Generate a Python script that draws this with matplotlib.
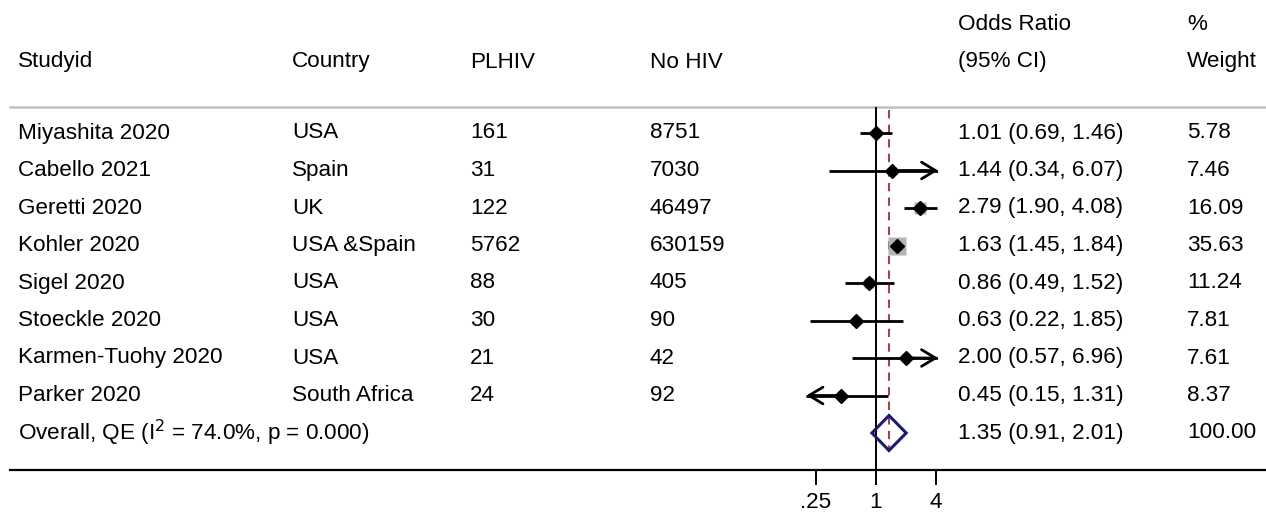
import numpy as np
import matplotlib
matplotlib.use("Agg")
import matplotlib.pyplot as plt
from matplotlib.patches import Polygon

plt.rcParams['font.family'] = ['Liberation Sans', 'DejaVu Sans']

# data
studies = ['Miyashita 2020', 'Cabello 2021', 'Geretti 2020', 'Kohler 2020',
           'Sigel 2020', 'Stoeckle 2020', 'Karmen-Tuohy 2020', 'Parker 2020']
countries = ['USA', 'Spain', 'UK', 'USA &Spain', 'USA', 'USA', 'USA', 'South Africa']
plhiv = [161, 31, 122, 5762, 88, 30, 21, 24]
nohiv = [8751, 7030, 46497, 630159, 405, 90, 42, 92]
odds = [1.01, 1.44, 2.79, 1.63, 0.86, 0.63, 2.00, 0.45]
lower = [0.69, 0.34, 1.90, 1.45, 0.49, 0.22, 0.57, 0.15]
upper = [1.46, 6.07, 4.08, 1.84, 1.52, 1.85, 6.96, 1.31]
weights = [5.78, 7.46, 16.09, 35.63, 11.24, 7.81, 7.61, 8.37]
overall = (1.35, 0.91, 2.01)
overall_weight = 100.00
overall_label = 'Overall, QE (I$^2$ = 74.0%, p = 0.000)'
xticks = [0.25, 1, 4]
xticklabels = ['.25', '1', '4']
xmin, xmax = 0.2, 4.2

W, H = 1266, 513
fig = plt.figure(figsize=(W / 100, H / 100), dpi=100, facecolor='white')

# row geometry (pixels)
row0, step = 133, 37.5
def rowy(px):
    return (px - row0) / step

# background axes for table text and rules
tab = fig.add_axes([0, 0, 1, 1])
tab.set_xlim(0, W)
tab.set_ylim(rowy(H), rowy(0))
tab.axis('off')

fs = 16.2
cols = [18, 292, 470, 650, 958, 1187]
hdr_y = rowy(62)
for x, t in zip(cols, ['Studyid', 'Country', 'PLHIV', 'No HIV', '(95% CI)', 'Weight']):
    tab.text(x, hdr_y, t, fontsize=fs, va='center', ha='left')
tab.text(cols[4], rowy(25), 'Odds Ratio', fontsize=fs, va='center')
tab.text(cols[5], rowy(25), '%', fontsize=fs, va='center')

for i in range(len(studies)):
    vals = [studies[i], countries[i], str(plhiv[i]), str(nohiv[i]),
            f'{odds[i]:.2f} ({lower[i]:.2f}, {upper[i]:.2f})', f'{weights[i]:.2f}']
    for x, t in zip(cols, vals):
        tab.text(x, i, t, fontsize=fs, va='center', ha='left')
n = len(studies)
tab.text(cols[0], n, overall_label, fontsize=fs, va='center')
tab.text(cols[4], n, f'{overall[0]:.2f} ({overall[1]:.2f}, {overall[2]:.2f})', fontsize=fs, va='center')
tab.text(cols[5], n, f'{overall_weight:.2f}', fontsize=fs, va='center')

tab.axhline(rowy(107), xmin=10 / W, xmax=1, color='#c0c0c0', lw=1.8)
tab.axhline(rowy(470), xmin=10 / W, xmax=1, color='black', lw=1.6)

# forest axes
x0 = 876 + 30 * np.log2(xmin)
x1 = 876 + 30 * np.log2(xmax)
top_px, bot_px = 107, 470
ax = fig.add_axes([x0 / W, 1 - bot_px / H, (x1 - x0) / W, (bot_px - top_px) / H])
ax.set_xscale('log', base=2)
ax.set_xlim(xmin, xmax)
ax.set_ylim(rowy(bot_px), rowy(top_px))
ax.patch.set_alpha(0)
for s in ax.spines.values():
    s.set_visible(False)
ax.set_yticks([])
ax.set_xticks(xticks)
ax.set_xticklabels(xticklabels, fontsize=fs)
ax.xaxis.set_minor_locator(matplotlib.ticker.NullLocator())
ax.tick_params(axis='x', length=11, width=1.4, direction='out', pad=5)

ax.axvline(1, color='black', lw=1.4, zorder=1)
ax.plot([overall[0], overall[0]], [rowy(110), rowy(452)], color='#a3405a',
        lw=1.5, ls=(0, (4, 3)), zorder=1)

astyle = '->,head_length=1.0,head_width=0.6'
for i in range(n):
    side = 2.16 * np.sqrt(weights[i])
    ax.plot(odds[i], i, 's', ms=side, color='#b4b4b4', mec='none', zorder=2)
    lo, hi = max(lower[i], xmin), min(upper[i], xmax)
    ax.plot([lo, hi], [i, i], color='black', lw=2.0, zorder=3, solid_capstyle='butt')
    if upper[i] > xmax:
        ax.annotate('', xy=(xmax, i), xytext=(odds[i], i),
                    arrowprops=dict(arrowstyle=astyle, lw=2.0, color='black',
                                    shrinkA=0, shrinkB=0),
                    zorder=3, annotation_clip=False)
    if lower[i] < xmin:
        ax.annotate('', xy=(xmin, i), xytext=(odds[i], i),
                    arrowprops=dict(arrowstyle=astyle, lw=2.0, color='black',
                                    shrinkA=0, shrinkB=0),
                    zorder=3, annotation_clip=False)
    ax.plot(odds[i], i, 'D', ms=7.5, color='black', zorder=4)

hh = 17.5 / step
diamond = Polygon([(overall[1], n), (overall[0], n - hh), (overall[2], n), (overall[0], n + hh)],
                  closed=True, fill=False, edgecolor='#1c1c6c', lw=2.2, zorder=5)
ax.add_patch(diamond)

fig.savefig('out.png', dpi=100, facecolor='white')
